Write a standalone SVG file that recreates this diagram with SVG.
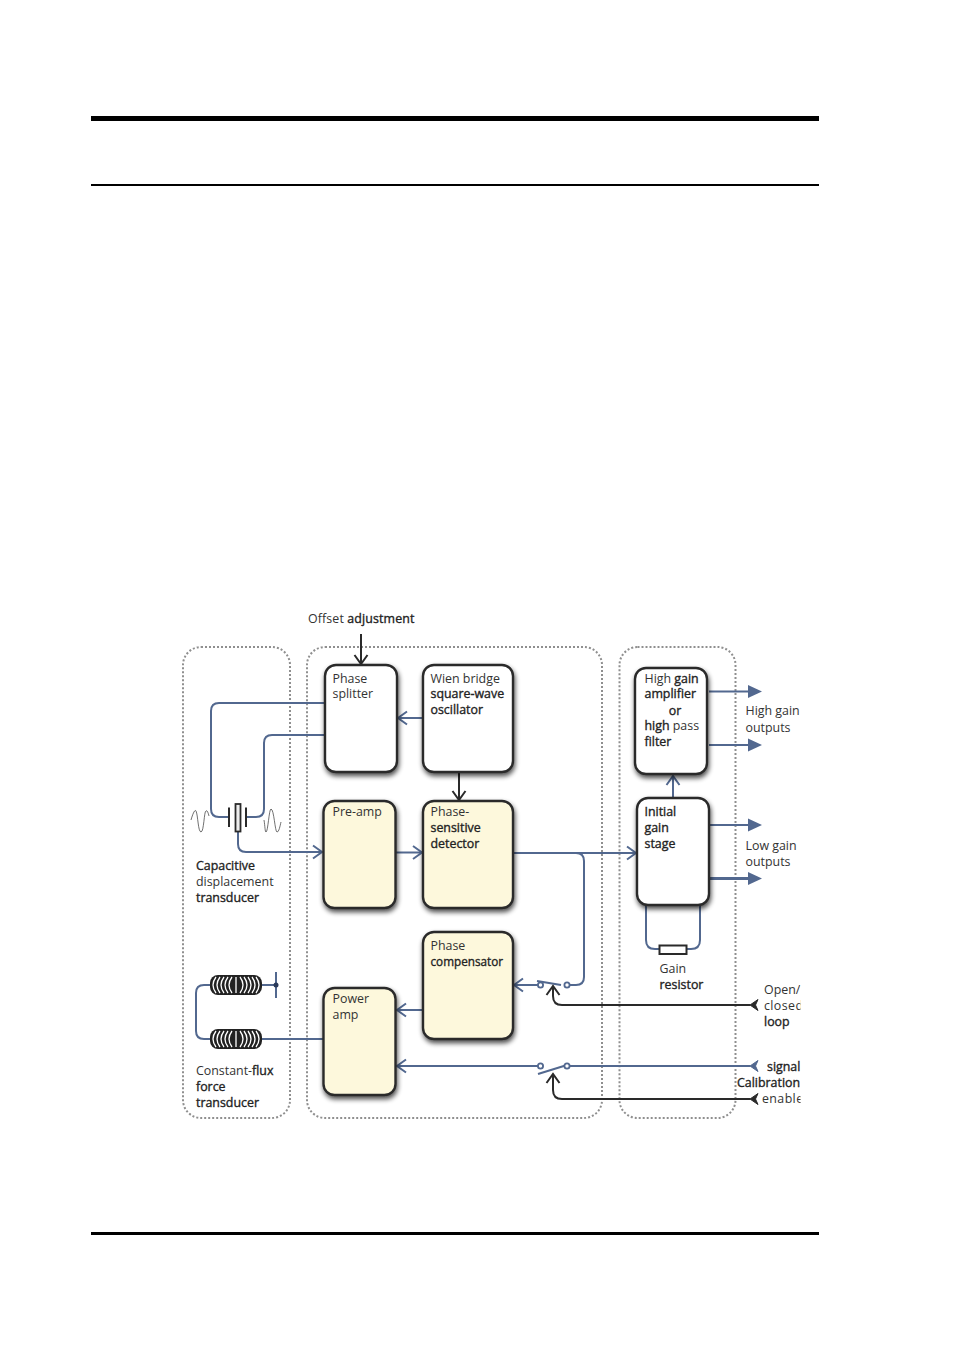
<svg xmlns="http://www.w3.org/2000/svg" width="954" height="1350" viewBox="0 0 954 1350">
<style>
text{font-family:"Open Sans","Liberation Sans",sans-serif;font-size:12.4px;fill:#333}
.b{fill:#222;stroke:#222;stroke-width:.35}
.zone{fill:none;stroke:#8f8f8f;stroke-width:2;stroke-dasharray:2 2}
.box{stroke:#2a2a2a;stroke-width:2.4}
.w{fill:#fff}.y{fill:#fdf8dc}
.bl{fill:none;stroke:#52688f;stroke-width:2}
.dk{fill:none;stroke:#2a2a2a;stroke-width:2}
.tri{fill:#52688f}
.sw{fill:#fff;stroke:#52688f;stroke-width:1.8}
.coil{fill:none;stroke:#fff;stroke-width:1.3}
.wave{fill:none;stroke:#333;stroke-width:.7}
</style>
<defs>
<filter id="sh" x="-20%" y="-20%" width="150%" height="150%"><feGaussianBlur in="SourceAlpha" stdDeviation="2.8"/><feOffset dx="1" dy="3"/><feComponentTransfer><feFuncA type="linear" slope=".7"/></feComponentTransfer><feMerge><feMergeNode/><feMergeNode in="SourceGraphic"/></feMerge></filter>
<marker id="ab" markerUnits="userSpaceOnUse" markerWidth="14" markerHeight="16" refX="11" refY="8" orient="auto"><path d="M2 1.500L11 8L2 14.500" fill="none" stroke="#52688f" stroke-width="2"/></marker>
<marker id="ad" markerUnits="userSpaceOnUse" markerWidth="14" markerHeight="16" refX="11" refY="8" orient="auto"><path d="M2 1.500L11 8L2 14.500" fill="none" stroke="#2a2a2a" stroke-width="2"/></marker>
<clipPath id="cl"><rect x="0" y="0" width="800.500" height="1350"/></clipPath>
<g id="coil-shape"><rect x="210" y="-10" width="52" height="20" rx="8" fill="#222"/><path class="coil" d="M216 -8Q210 0 216 8M220 -8Q214 0 220 8M224 -8Q218 0 224 8M228 -8Q222 0 228 8M232 -8Q226 0 232 8M236 -8V8M240 -8Q246 0 240 8M244 -8Q250 0 244 8M248 -8Q254 0 248 8M252 -8Q258 0 252 8M256 -8Q262 0 256 8"/></g>
</defs>
<rect width="954" height="1350" fill="#fff"/>
<g id="page-rules"><rect x="91" y="116" width="728" height="5" fill="#000"/><rect x="91" y="184" width="728" height="2" fill="#000"/><rect x="91" y="1232" width="728" height="3" fill="#000"/></g>
<g id="zones"><rect class="zone" x="183" y="647" width="107" height="471" rx="18"/><rect class="zone" x="307" y="647" width="295" height="471" rx="18"/><rect class="zone" x="619.500" y="647" width="116" height="471" rx="18"/></g>
<g id="connectors">
<path class="bl" d="M325 703H219Q211 703 211 711V809Q211 817 219 817H229"/>
<path class="bl" d="M325 735H272Q264 735 264 743V809Q264 817 256 817H246"/>
<path class="bl" d="M238 832V844Q238 852 246 852H322" marker-end="url(#ab)"/>
<path class="bl" d="M423 718H398" marker-end="url(#ab)"/>
<path class="dk" d="M361 634V664" marker-end="url(#ad)"/>
<path class="dk" d="M459 772V800" marker-end="url(#ad)"/>
<path class="bl" d="M395 852.500H422" marker-end="url(#ab)"/>
<path class="bl" d="M513 853H636" marker-end="url(#ab)"/>
<path class="bl" d="M576 853Q584 853 584 861V977Q584 985 576 985H567"/>
<path class="bl" d="M540 985H514" marker-end="url(#ab)"/>
<path class="bl" d="M537 981L561 985"/>
<path class="dk" d="M750 1005H562Q553 1005 553 996V986" marker-end="url(#ad)"/>
<path class="bl" d="M423 1010H397" marker-end="url(#ab)"/>
<path class="bl" d="M750 1066H567"/>
<path class="bl" d="M540 1066H397" marker-end="url(#ab)"/>
<path class="bl" d="M538 1074L567 1065"/>
<path class="dk" d="M750 1099H562Q553 1099 553 1090V1074" marker-end="url(#ad)"/>
<path class="bl" d="M673 798V776" marker-end="url(#ab)"/>
<path class="bl" d="M709 691.500H748"/><path class="tri" d="M748 685L762 691.500L748 698Z"/>
<path class="bl" d="M709 745H748"/><path class="tri" d="M748 738.500L762 745L748 751.500Z"/>
<path class="bl" d="M709 825H748"/><path class="tri" d="M748 818.500L762 825L748 831.500Z"/>
<path class="bl" d="M709 878.500H748" style="stroke-width:3"/><path class="tri" d="M748 872L762 878.500L748 885Z"/>
<path class="bl" d="M646 905V940Q646 949 655 949H659"/>
<path class="bl" d="M700 905V940Q700 949 691 949H687"/>
<path class="bl" d="M210 985H204Q196 985 196 993V1031Q196 1039 204 1039H210"/>
<path class="bl" d="M262 985H276"/><path class="bl" d="M276 972V998"/>
<path class="bl" d="M262 1039H323"/>
<path d="M758 999.500L750 1005L758 1010.500L755.500 1005Z" fill="#2a2a2a" stroke="#2a2a2a"/>
<path d="M758 1060.500L750 1066L758 1071.500L755.500 1066Z" fill="#52688f" stroke="#52688f"/>
<path d="M758 1093.500L750 1099L758 1104.500L755.500 1099Z" fill="#2a2a2a" stroke="#2a2a2a"/>
</g>
<g id="switches"><circle class="sw" cx="540.500" cy="985" r="2.600"/><circle class="sw" cx="567" cy="985" r="2.600"/><circle class="sw" cx="540.500" cy="1066" r="2.600"/><circle class="sw" cx="567" cy="1066" r="2.600"/></g>
<g id="phase-splitter"><rect class="box w" filter="url(#sh)" x="325" y="665" width="72" height="107" rx="11"/><text x="332.500" y="682.500">Phase</text><text x="332.500" y="698">splitter</text></g>
<g id="wien-bridge"><rect class="box w" filter="url(#sh)" x="423" y="665" width="90" height="107" rx="11"/><text x="430.500" y="682.500">Wien bridge</text><text class="b" x="430.500" y="698">square-wave</text><text class="b" x="430.500" y="714">oscillator</text></g>
<g id="pre-amp"><rect class="box y" filter="url(#sh)" x="323.500" y="801" width="72" height="107" rx="11"/><text x="332.500" y="816">Pre-amp</text></g>
<g id="psd"><rect class="box y" filter="url(#sh)" x="423" y="801" width="90" height="107" rx="11"/><text x="430.500" y="816">Phase-</text><text class="b" x="430.500" y="832">sensitive</text><text class="b" x="430.500" y="848">detector</text></g>
<g id="phase-compensator"><rect class="box y" filter="url(#sh)" x="423" y="932" width="90" height="107" rx="11"/><text x="430.500" y="949.500">Phase</text><text class="b" x="430.500" y="965.500" textLength="72.500" lengthAdjust="spacingAndGlyphs">compensator</text></g>
<g id="power-amp"><rect class="box y" filter="url(#sh)" x="323.500" y="988" width="72" height="107" rx="11"/><text x="332.500" y="1003">Power</text><text x="332.500" y="1019">amp</text></g>
<g id="high-gain"><rect class="box w" filter="url(#sh)" x="635" y="668" width="72" height="106" rx="11"/><text x="644.500" y="683">High <tspan class="b">gain</tspan></text><text class="b" x="644.500" y="698">amplifier</text><text class="b" x="675" y="714.500" text-anchor="middle">or</text><text x="644.500" y="730"><tspan class="b">high</tspan> pass</text><text class="b" x="644.500" y="746">filter</text></g>
<g id="initial-gain"><rect class="box w" filter="url(#sh)" x="637" y="798" width="72" height="107" rx="11"/><text x="644.500" y="816"><tspan class="b">Initial</tspan></text><text class="b" x="644.500" y="832">gain</text><text class="b" x="644.500" y="848">stage</text></g>
<g id="gain-resistor"><rect x="659.500" y="945.500" width="27" height="8.500" fill="#fff" stroke="#2a2a2a" stroke-width="2"/><text x="659.500" y="973">Gain</text><text class="b" x="659.500" y="989">resistor</text></g>
<g id="capacitive-transducer">
<path class="dk" d="M229 807.500V827M246 807.500V827"/>
<rect x="235.500" y="804" width="5" height="27.500" fill="#eee" stroke="#2a2a2a" stroke-width="1.800"/>
<path class="wave" d="M191 820C193 813 195 809 196 811C198 815 198 832 201 832C204 832 204 811 206 811C207 810 208 812 209 816"/>
<path class="wave" d="M264 820C265 826 265 832 266 832C268 832 269 809 271 809C274 809 275 832 277 832C279 832 280 826 281 822"/>
<text class="b" x="196" y="870">Capacitive</text><text x="196" y="886">displacement</text><text class="b" x="196" y="902">transducer</text></g>
<g id="force-transducer">
<use href="#coil-shape" y="985"/><use href="#coil-shape" y="1039"/>
<circle cx="276" cy="985" r="2.500" fill="#2a3a5a"/>
<text x="196" y="1074.500">Constant-<tspan class="b">flux</tspan></text><text class="b" x="196" y="1090.500">force</text><text class="b" x="196" y="1106.500">transducer</text></g>
<g id="labels" clip-path="url(#cl)">
<text x="308" y="622.500" letter-spacing=".12">Offset <tspan class="b">adjustment</tspan></text>
<text x="745.500" y="715">High gain</text><text x="745.500" y="731.500">outputs</text>
<text x="745.500" y="850">Low gain</text><text x="745.500" y="866">outputs</text>
<text x="764" y="993.500">Open/</text><text x="764" y="1009.500" letter-spacing=".4">closed</text><text class="b" x="764" y="1025.500">loop</text>
<text class="b" x="767" y="1070.500">signal</text><text class="b" x="737" y="1086.500">Calibration</text><text x="762" y="1103" letter-spacing=".4">enable</text>
</g>
</svg>
